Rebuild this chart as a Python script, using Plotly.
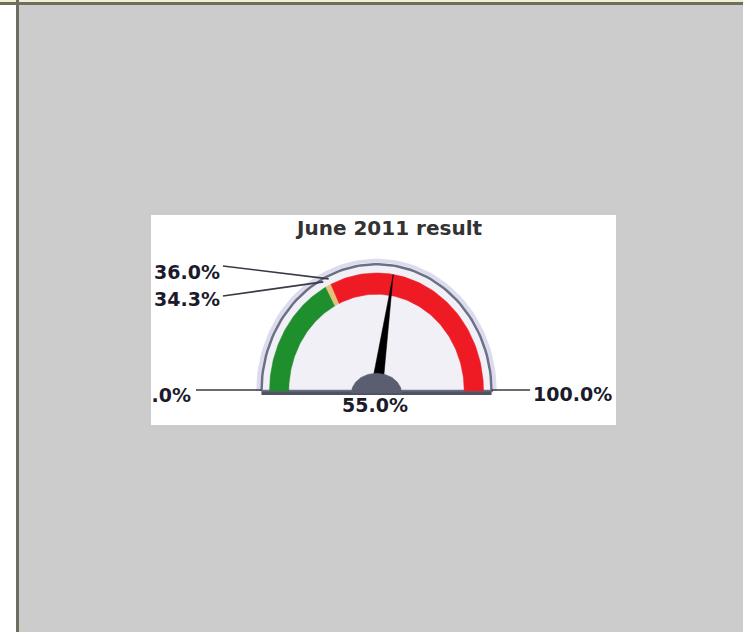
import numpy as np
import plotly.graph_objects as go

# ---------------- data ----------------
title_text = "June 2011 result"
scale_min = 0.0
scale_max = 100.0
band_edges = [0.0, 34.3, 36.0, 100.0]
band_colors = ["#1f8e2c", "#e4c27c", "#ee1b24"]
threshold_values = [36.0, 34.3]
needle_value = 55.0

# ---------------- geometry helpers (gauge units) ----------------
R_OUT = 1.0
R_IN = 0.82
R_FRAME = 1.075


def ang(v):
    return np.pi * (1.0 - (v - scale_min) / (scale_max - scale_min))


def arc(v0, v1, r, n=80):
    t = np.linspace(ang(v0), ang(v1), n)
    return r * np.cos(t), r * np.sin(t)


def fmt(v):
    return f"{v:.1f}%"


fig = go.Figure()

# soft halo
hx, hy = arc(scale_min, scale_max, R_FRAME + 0.03)
fig.add_trace(go.Scatter(x=hx, y=hy, mode="lines", line=dict(color="#dcdcee", width=4),
                         hoverinfo="skip", showlegend=False))

# gauge body
fx, fy = arc(scale_min, scale_max, R_FRAME)
fig.add_trace(go.Scatter(x=np.append(fx, fx[0]), y=np.append(fy, fy[0]), mode="lines",
                         fill="toself", fillcolor="#f0f0f6",
                         line=dict(color="#6b7084", width=2.5),
                         hoverinfo="skip", showlegend=False))

# colour bands
for v0, v1, c in zip(band_edges[:-1], band_edges[1:], band_colors):
    ox, oy = arc(v0, v1, R_OUT)
    ix, iy = arc(v1, v0, R_IN)
    fig.add_trace(go.Scatter(x=np.concatenate([ox, ix, ox[:1]]), y=np.concatenate([oy, iy, oy[:1]]),
                             mode="lines", fill="toself", fillcolor=c, line=dict(color=c, width=0.5),
                             hoverinfo="skip", showlegend=False))

# base line
fig.add_trace(go.Scatter(x=[-R_FRAME, R_FRAME], y=[-0.02, -0.02], mode="lines",
                         line=dict(color="#4e5262", width=3.5), hoverinfo="skip", showlegend=False))

# leader lines
lx, ly = [], []
label_anchor = {36.0: (-1.435, 1.059), 34.3: (-1.435, 0.805)}
for v in threshold_values:
    a = ang(v)
    sx, sy = label_anchor[v]
    lx += [sx, 1.05 * np.cos(a), None]
    ly += [sy, 1.05 * np.sin(a), None]
lx += [-1.687, -R_FRAME, None, R_FRAME, 1.435]
ly += [0.008, 0.008, None, 0.008, 0.008]
fig.add_trace(go.Scatter(x=lx, y=ly, mode="lines", line=dict(color="#3a3a46", width=1.6),
                         hoverinfo="skip", showlegend=False))

# needle
a = ang(needle_value)
d = np.array([np.cos(a), np.sin(a)])
p = np.array([-np.sin(a), np.cos(a)])
hw = 0.055
tip = d * R_OUT
b1 = p * hw
b2 = -p * hw
fig.add_trace(go.Scatter(x=[b1[0], tip[0], b2[0], b1[0]], y=[b1[1], tip[1], b2[1], b1[1]],
                         mode="lines", fill="toself", fillcolor="#000000",
                         line=dict(color="#000000", width=0.5), hoverinfo="skip", showlegend=False))

# hub
t = np.linspace(0, np.pi, 60)
fig.add_trace(go.Scatter(x=0.235 * np.cos(t), y=-0.02 + 0.17 * np.sin(t), mode="lines",
                         fill="toself", fillcolor="#5a5e70", line=dict(color="#5a5e70", width=0.5),
                         hoverinfo="skip", showlegend=False))

# labels
lab_x = [-1.463, -1.463, -1.734, 1.463, -0.014]
lab_y = [0.987, 0.763, -0.051, -0.042, -0.136]
lab_t = [fmt(threshold_values[0]), fmt(threshold_values[1]), fmt(scale_min), fmt(scale_max), fmt(needle_value)]
lab_p = ["middle left", "middle left", "middle left", "middle right", "middle center"]
fig.add_trace(go.Scatter(x=lab_x, y=lab_y, mode="text", text=lab_t, textposition=lab_p,
                         cliponaxis=True,
                         textfont=dict(family="DejaVu Sans", size=19, color="#1b1b2b", weight="bold"),
                         hoverinfo="skip", showlegend=False))

W, H = 743, 632
fig.update_layout(
    width=W, height=H, autosize=False,
    margin=dict(l=0, r=0, t=0, b=0),
    paper_bgcolor="#cccccc", plot_bgcolor="#ffffff",
    xaxis=dict(domain=[151 / W, 616 / W], range=[(151 - 376.5) / 107, (616 - 376.5) / 107],
               visible=False, fixedrange=True),
    yaxis=dict(domain=[1 - 425 / H, 1 - 215 / H], range=[(391 - 425) / 118, (391 - 215) / 118],
               visible=False, fixedrange=True),
    annotations=[dict(text=title_text, x=388.5 / W, y=1 - 228 / H, xref="paper", yref="paper",
                      xanchor="center", yanchor="middle", showarrow=False,
                      font=dict(family="DejaVu Sans", size=20, color="#333333", weight="bold"))],
    shapes=[
        dict(type="rect", xref="paper", yref="paper", x0=0, x1=16 / W, y0=0, y1=1,
             fillcolor="#ffffff", line=dict(width=0), layer="below"),
        dict(type="rect", xref="paper", yref="paper", x0=0, x1=1, y0=1 - 2 / H, y1=1,
             fillcolor="#f3efd2", line=dict(width=0)),
        dict(type="rect", xref="paper", yref="paper", x0=0, x1=1, y0=1 - 5 / H, y1=1 - 2 / H,
             fillcolor="#6e6e60", line=dict(width=0)),
        dict(type="rect", xref="paper", yref="paper", x0=16 / W, x1=19 / W, y0=0, y1=1,
             fillcolor="#6e6e60", line=dict(width=0)),
    ],
    showlegend=False,
)

fig.write_html("out.html", config={"displayModeBar": False},
               post_script="document.body.style.margin='0px';document.body.style.overflow='hidden';")
